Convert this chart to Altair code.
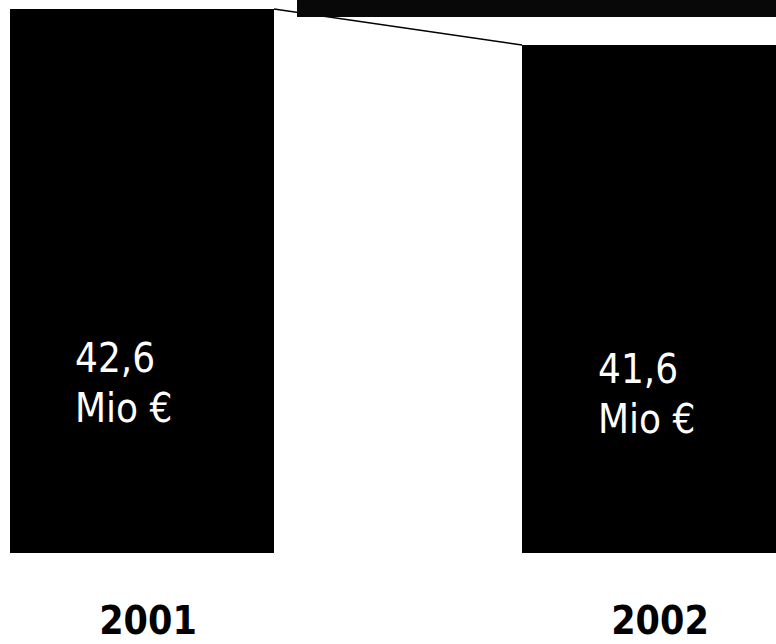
import altair as alt
import pandas as pd

years = ["2001", "2002"]
values = [42.6, 41.6]
value_labels = ["42,6", "41,6"]
unit_label = "Mio €"

df = pd.DataFrame({"year": years, "value": values, "label": value_labels})
conn = pd.DataFrame({"from": [years[0]], "to": [years[1]], "v1": [values[0]], "v2": [values[1]]})

xscale = alt.Scale(domain=years, range=[10, 786], paddingInner=0.484375, paddingOuter=0)
yscale = alt.Scale(domain=[27.49, 42.85], zero=False, nice=False)

base = alt.Chart(df)

bars = base.mark_bar(color="black", clip=True).encode(
    x=alt.X("year:N", scale=xscale, sort=years,
            axis=alt.Axis(title=None, domain=False, ticks=False, grid=False, labelAngle=0,
                          labelFont="DejaVu Sans Condensed", labelFontWeight="bold",
                          labelFontSize=39, labelColor="black", labelBaseline="alphabetic",
                          labelPadding=80, labelOffset=6)),
    y=alt.Y("value:Q", scale=yscale, axis=None),
)

rule = alt.Chart(conn).mark_rule(color="black", strokeWidth=1.6).encode(
    x=alt.X("from:N", bandPosition=1),
    x2=alt.X2("to:N", bandPosition=0),
    y=alt.Y("v1:Q"),
    y2=alt.Y2("v2:Q"),
)

banner = alt.Chart(df).mark_rect(color="#080808").encode(
    x=alt.value(297), x2=alt.value(776), y=alt.value(0), y2=alt.value(17)
)

def label_layer(year, dx, dy):
    return base.transform_filter(alt.datum.year == year).transform_calculate(
        lines=f"[datum.label, '{unit_label}']"
    ).mark_text(color="white", font="DejaVu Sans Condensed", fontSize=40, align="left",
                baseline="alphabetic", lineHeight=50, dx=dx, dy=dy).encode(
        x=alt.X("year:N", bandPosition=0),
        y=alt.Y("value:Q"),
        text="lines:N",
    )

labels1 = label_layer(years[0], 65, 363)
labels2 = label_layer(years[1], 76, 338)

chart = alt.layer(bars, rule, banner, labels1, labels2).properties(
    width=776, height=553,
    autosize=alt.AutoSizeParams(type="none"),
    padding={"left": 0, "top": 0, "right": 0, "bottom": 91},
    background="white",
).configure_view(stroke=None)

chart.save("out.html", embed_options={"renderer": "svg", "actions": False})
